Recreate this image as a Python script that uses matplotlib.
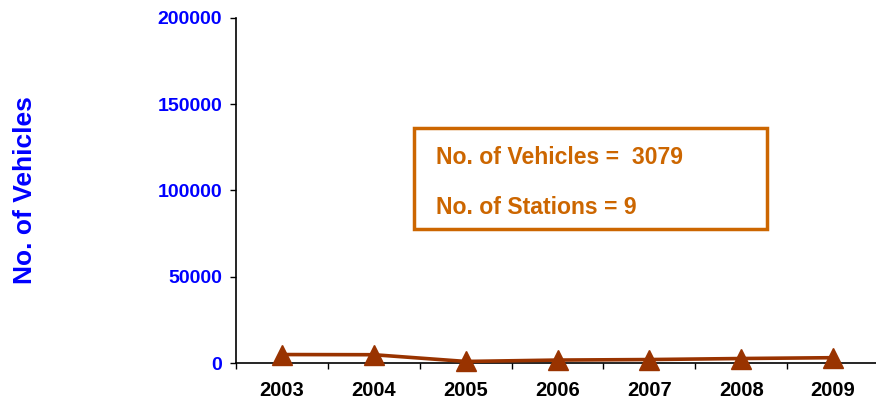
import matplotlib.pyplot as plt
from matplotlib.patches import Rectangle
from matplotlib.ticker import FixedLocator

years = ['2003', '2004', '2005', '2006', '2007', '2008', '2009']
vehicles = [4900, 4800, 900, 1700, 2000, 2600, 3079]
y_ticks = [0, 50000, 100000, 150000, 200000]
box_lines = ['No. of Vehicles =  3079', 'No. of Stations = 9']

plt.rcParams['font.family'] = ['Liberation Sans', 'DejaVu Sans']

fig = plt.figure(figsize=(8.76, 4.04), dpi=100)
ax = fig.add_axes([236 / 876, 1 - 363 / 404, 643 / 876, 345 / 404])

x = range(len(years))
ax.plot(x, vehicles, color='#993300', lw=2.6, marker='^', markersize=14,
        markeredgecolor='#993300', clip_on=False, zorder=3)

ax.set_xlim(-0.5, len(years) - 0.5)
ax.set_ylim(0, 200000)
ax.set_xticks(list(x))
ax.set_xticklabels(years, fontsize=14.5, fontweight='bold', color='black')
ax.xaxis.set_minor_locator(FixedLocator([i - 0.5 for i in range(len(years) + 1)]))
ax.tick_params(axis='x', which='major', length=0, pad=13)
ax.tick_params(axis='x', which='minor', length=4, width=1, direction='out')

ax.set_yticks(y_ticks)
ax.set_yticklabels([str(v) for v in y_ticks], fontsize=14, fontweight='bold', color='#0000FF')
ax.tick_params(axis='y', length=4, width=1, direction='out', pad=6)

ax.spines['top'].set_visible(False)
ax.spines['right'].set_visible(False)
for s in ('left', 'bottom'):
    ax.spines[s].set_linewidth(1.2)

fig.text(25 / 876, 1 - 190 / 404, 'No. of Vehicles', rotation=90, fontsize=19,
         fontweight='bold', color='#0000FF', ha='center', va='center')

# summary box
fig.patches.append(Rectangle((414 / 876, 1 - 229 / 404), 353 / 876, 101 / 404,
                             transform=fig.transFigure, fill=False,
                             edgecolor='#CC6600', lw=2.5))
fig.text(436 / 876, 1 - 158 / 404, box_lines[0], fontsize=16.6, fontweight='bold',
         color='#CC6600', va='center')
fig.text(436 / 876, 1 - 207 / 404, box_lines[1], fontsize=16.6, fontweight='bold',
         color='#CC6600', va='center')

fig.savefig('out.png', dpi=100)
